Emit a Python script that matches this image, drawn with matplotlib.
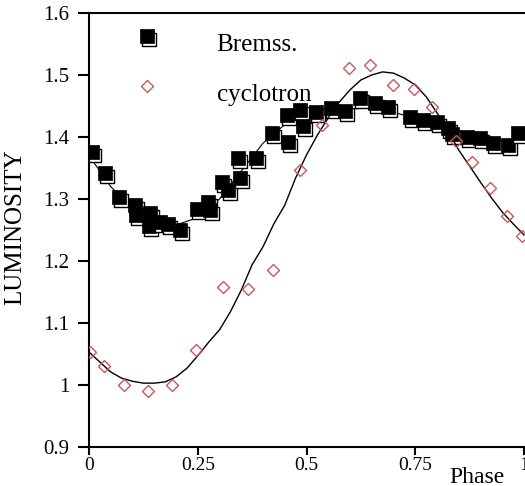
import numpy as np
import matplotlib
matplotlib.use("Agg")
import matplotlib.pyplot as plt
from matplotlib.path import Path
from matplotlib.markers import MarkerStyle
from matplotlib.legend_handler import HandlerTuple, HandlerLine2D

plt.rcParams['font.family'] = ['Liberation Serif', 'DejaVu Serif']

# ---------------- data ----------------
bremss_phase = [0.007, 0.037, 0.069, 0.106, 0.108, 0.140, 0.138, 0.163, 0.182, 0.209,
                0.248, 0.274, 0.278, 0.306, 0.320, 0.347, 0.343, 0.384, 0.421, 0.457,
                0.455, 0.485, 0.492, 0.522, 0.556, 0.589, 0.623, 0.657, 0.687, 0.738,
                0.768, 0.800, 0.825, 0.834, 0.869, 0.899, 0.929, 0.963, 0.986]
bremss_lum = [1.376, 1.342, 1.303, 1.290, 1.274, 1.277, 1.256, 1.263, 1.260, 1.250,
              1.284, 1.295, 1.282, 1.327, 1.315, 1.334, 1.366, 1.366, 1.406, 1.392,
              1.435, 1.444, 1.418, 1.440, 1.447, 1.442, 1.463, 1.455, 1.448, 1.432,
              1.427, 1.424, 1.415, 1.405, 1.400, 1.398, 1.390, 1.387, 1.406]

bremss_fit_phase = [0.0, 0.05, 0.10, 0.15, 0.20, 0.25, 0.30, 0.35, 0.40, 0.45, 0.50,
                    0.55, 0.60, 0.65, 0.70, 0.75, 0.80, 0.85, 0.90, 0.95, 1.0]
bremss_fit_lum = [1.37, 1.32, 1.285, 1.265, 1.258, 1.27, 1.30, 1.345, 1.39, 1.42, 1.435,
                  1.44, 1.445, 1.447, 1.44, 1.43, 1.42, 1.41, 1.40, 1.39, 1.39]

cyc_phase = [0.002, 0.035, 0.080, 0.136, 0.190, 0.246, 0.308, 0.366, 0.423, 0.485,
             0.536, 0.598, 0.646, 0.699, 0.747, 0.789, 0.844, 0.880, 0.922, 0.961, 0.995]
cyc_lum = [1.053, 1.030, 1.000, 0.990, 1.000, 1.056, 1.158, 1.155, 1.185, 1.347,
           1.420, 1.511, 1.516, 1.484, 1.478, 1.448, 1.394, 1.360, 1.318, 1.272, 1.240]

fit_phase = [0.000, 0.025, 0.050, 0.075, 0.100, 0.125, 0.150, 0.175, 0.200, 0.225,
             0.250, 0.275, 0.300, 0.325, 0.350, 0.375, 0.400, 0.425, 0.450, 0.475,
             0.500, 0.525, 0.550, 0.575, 0.600, 0.625, 0.650, 0.675, 0.700, 0.725,
             0.750, 0.775, 0.800, 0.825, 0.850, 0.875, 0.900, 0.925, 0.950, 0.975, 1.000]
fit_lum = [1.053, 1.037, 1.021, 1.011, 1.006, 1.003, 1.003, 1.005, 1.013, 1.027,
           1.047, 1.069, 1.089, 1.118, 1.153, 1.194, 1.223, 1.260, 1.290, 1.334,
           1.371, 1.403, 1.431, 1.456, 1.476, 1.492, 1.500, 1.505, 1.503, 1.495,
           1.484, 1.465, 1.439, 1.410, 1.379, 1.353, 1.327, 1.302, 1.279, 1.260, 1.242]

xticks = [0, 0.25, 0.5, 0.75, 1.0]
xticklabels = ['0', '0.25', '0.5', '0.75', '1']
yticks = [0.9, 1.0, 1.1, 1.2, 1.3, 1.4, 1.5, 1.6]
yticklabels = ['0.9', '1', '1.1', '1.2', '1.3', '1.4', '1.5', '1.6']

# ---------------- figure ----------------
W, H = 525, 486
fig = plt.figure(figsize=(W / 100, H / 100), dpi=100)
ax_left, ax_right, ax_top, ax_bot = 89, 530, 13, 447
ax = fig.add_axes([ax_left / W, 1 - ax_bot / H, (ax_right - ax_left) / W, (ax_bot - ax_top) / H])
ax.set_xlim(0, (ax_right - ax_left) / 435.0)
ax.set_ylim(0.9, 1.6)

# shadow marker: square offset down-right (path normalised by max |vertex|)
dx, dy = 0.15, -0.25
sq = np.array([[-0.5, -0.5], [0.5, -0.5], [0.5, 0.5], [-0.5, 0.5], [-0.5, -0.5]])
shadow_path = Path(sq + [dx, dy], closed=True)
ms_fill = 9.5
ms_shadow = ms_fill * (0.5 + abs(dy)) / 0.5
shadow_marker = MarkerStyle(shadow_path)

# Bremss fit line (thin)
ax.plot(bremss_fit_phase, bremss_fit_lum, color='black', lw=0.8, zorder=1.5)

shadow_h = fill_h = None
for x, y in zip(bremss_phase, bremss_lum):
    s, = ax.plot([x], [y], linestyle='none', marker=shadow_marker, ms=ms_shadow,
                 mfc='white', mec='black', mew=1.0, zorder=2)
    f, = ax.plot([x], [y], linestyle='none', marker='s', ms=ms_fill,
                 mfc='black', mec='black', mew=0.5, zorder=2)
    if shadow_h is None:
        shadow_h, fill_h = s, f

ax.plot(fit_phase, fit_lum, color='black', lw=1.0, zorder=3)
cyc_h, = ax.plot(cyc_phase, cyc_lum, linestyle='none', marker='D', ms=6.5,
                 mfc='none', mec='#c8585a', mew=1.0, zorder=4)

# axes styling
for side in ['left', 'bottom', 'top']:
    ax.spines[side].set_linewidth(1.5)
ax.spines['right'].set_visible(False)
ax.set_xticks(xticks)
ax.set_xticklabels(xticklabels)
ax.set_yticks(yticks)
ax.set_yticklabels(yticklabels)
ax.tick_params(axis='y', direction='out', length=8, width=1.5, labelsize=15, pad=6)
ax.tick_params(axis='x', direction='out', length=6, width=1.5, labelsize=14, pad=1)

fig.text(15 / W, 1 - 227 / H, 'LUMINOSITY', rotation=90, ha='center', va='center', fontsize=18)
fig.text(477 / W, 1 - 477 / H, 'Phase', ha='center', va='center', fontsize=17)

RAISE = 9.0  # legend markers sit a little above the label baseline centre


class RaisedTuple(HandlerTuple):
    def create_artists(self, legend, orig_handle, xdescent, ydescent, width, height, fontsize, trans):
        return super().create_artists(legend, orig_handle, xdescent, ydescent - RAISE,
                                      width, height, fontsize, trans)


class RaisedLine(HandlerLine2D):
    def create_artists(self, legend, orig_handle, xdescent, ydescent, width, height, fontsize, trans):
        return super().create_artists(legend, orig_handle, xdescent, ydescent - RAISE,
                                      width, height, fontsize, trans)


leg = ax.legend([(shadow_h, fill_h), cyc_h], ['Bremss.', 'cyclotron'],
                handler_map={tuple: RaisedTuple(ndivide=1, pad=0), cyc_h: RaisedLine()},
                loc='upper left',
                bbox_to_anchor=((134 - ax_left) / (ax_right - ax_left), 1 - (34 - ax_top) / (ax_bot - ax_top)),
                frameon=False, fontsize=18, handlelength=1.0, handletextpad=2.3,
                labelspacing=1.1, borderpad=0, borderaxespad=0)

fig.savefig('out.png', dpi=100)
